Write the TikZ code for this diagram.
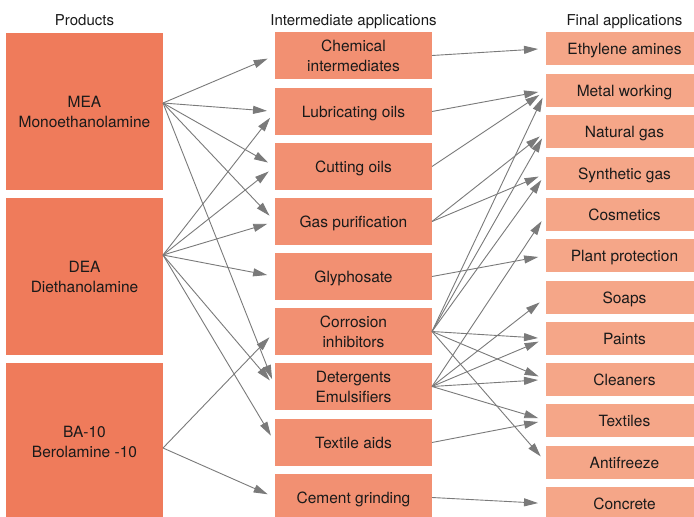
\documentclass[tikz,border=0pt]{standalone}
\usepackage{fontspec}
\setmainfont{TeX Gyre Heros}
\usetikzlibrary{arrows.meta}
\definecolor{prodc}{HTML}{EF7B5B}
\definecolor{midc}{HTML}{F29072}
\definecolor{finc}{HTML}{F5A688}
\definecolor{linec}{HTML}{7A7A7A}
\definecolor{txtc}{HTML}{1A1A1A}
\begin{document}
\begin{tikzpicture}[x=1pt,y=-1pt,
 box/.style={inner sep=0pt, outer sep=0pt, align=center, text=txtc, font=\fontsize{15.5}{20}\selectfont, anchor=north west},
 sl/.style={text height=11.2pt, text depth=0pt},
 prodbox/.style={box, fill=prodc, minimum width=157pt, minimum height=157pt},
 midbox/.style={box, fill=midc, minimum width=157pt, minimum height=47pt},
 finbox/.style={box, sl, fill=finc, minimum width=157pt, minimum height=33pt},
 header/.style={text=txtc, font=\fontsize{15}{18}\selectfont, inner sep=0pt, anchor=base},
 link/.style={draw=linec, line width=0.9pt, -{Triangle[length=14pt,width=8pt]}, shorten >=8pt}
]
\useasboundingbox (0,0) rectangle (694,517);
\clip (0,0) rectangle (694,517);
\fill[white] (0,0) rectangle (694,517);

% headers
\node[header] (h1) at (84.5,25) {Products};
\node[header] (h2) at (353.5,25) {Intermediate applications};
\node[header] (h3) at (624.5,25) {Final applications};

% products
\node[prodbox] (mea) at (6,33) {MEA\\Monoethanolamine};
\node[prodbox] (dea) at (6,198) {DEA\\Diethanolamine};
\node[prodbox] (ba) at (6,363) {BA-10\\Berolamine -10};

% intermediate applications
\node[midbox] (chem) at (275,32) {Chemical\\intermediates};
\node[midbox, sl] (lub) at (275,88) {Lubricating oils};
\node[midbox, sl] (cut) at (275,143) {Cutting oils};
\node[midbox, sl] (gas) at (275,198) {Gas purification};
\node[midbox, sl] (gly) at (275,253) {Glyphosate};
\node[midbox] (cor) at (275,308) {Corrosion\\inhibitors};
\node[midbox] (det) at (275,363) {Detergents\\Emulsifiers};
\node[midbox, sl] (tex) at (275,419) {Textile aids};
\node[midbox, sl] (cem) at (275,474) {Cement grinding};

% final applications
\node[finbox] (eth) at (546,32) {Ethylene amines};
\node[finbox] (met) at (546,74) {Metal working};
\node[finbox] (nat) at (546,115) {Natural gas};
\node[finbox] (syn) at (546,157) {Synthetic gas};
\node[finbox] (cos) at (546,198) {Cosmetics};
\node[finbox] (pla) at (546,239) {Plant protection};
\node[finbox] (soa) at (546,281) {Soaps};
\node[finbox] (pai) at (546,322) {Paints};
\node[finbox] (cle) at (546,363) {Cleaners};
\node[finbox] (txt) at (546,404) {Textiles};
\node[finbox] (ant) at (546,446) {Antifreeze};
\node[finbox] (con) at (546,487) {Concrete};

% origins on product boxes
\coordinate (meaO) at ([yshift=8.5pt]mea.east);
\coordinate (deaO) at ([yshift=21.5pt]dea.east);
\coordinate (baO) at ([yshift=-6.5pt]ba.east);

% products -> intermediate
\draw[link] (meaO) -- (chem.west);
\draw[link] (meaO) -- (lub.west);
\draw[link] (meaO) -- (cut.west);
\draw[link] (meaO) -- (gas.west);
\draw[link] (meaO) -- (det.west);
\draw[link] (deaO) -- (lub.west);
\draw[link] (deaO) -- (cut.west);
\draw[link] (deaO) -- (gas.west);
\draw[link] (deaO) -- (gly.west);
\draw[link] (deaO) -- (det.west);
\draw[link] (deaO) -- (tex.west);
\draw[link] (baO) -- (cor.west);
\draw[link] (baO) -- (cem.west);

% intermediate -> final
\draw[link] (chem.east) -- (eth.west);
\draw[link] (lub.east) -- (met.west);
\draw[link] (cut.east) -- (met.west);
\draw[link] (gas.east) -- (nat.west);
\draw[link] (gas.east) -- (syn.west);
\draw[link] (gly.east) -- (pla.west);
\draw[link] (cor.east) -- (met.west);
\draw[link] (cor.east) -- (nat.west);
\draw[link] (cor.east) -- (syn.west);
\draw[link] (cor.east) -- (pai.west);
\draw[link] (cor.east) -- (cle.west);
\draw[link] (cor.east) -- (ant.west);
\draw[link] (det.east) -- (cos.west);
\draw[link] (det.east) -- (soa.west);
\draw[link] (det.east) -- (pai.west);
\draw[link] (det.east) -- (cle.west);
\draw[link] (det.east) -- (txt.west);
\draw[link] (tex.east) -- (txt.west);
\draw[link] (cem.east) -- (con.west);
\end{tikzpicture}
\end{document}
